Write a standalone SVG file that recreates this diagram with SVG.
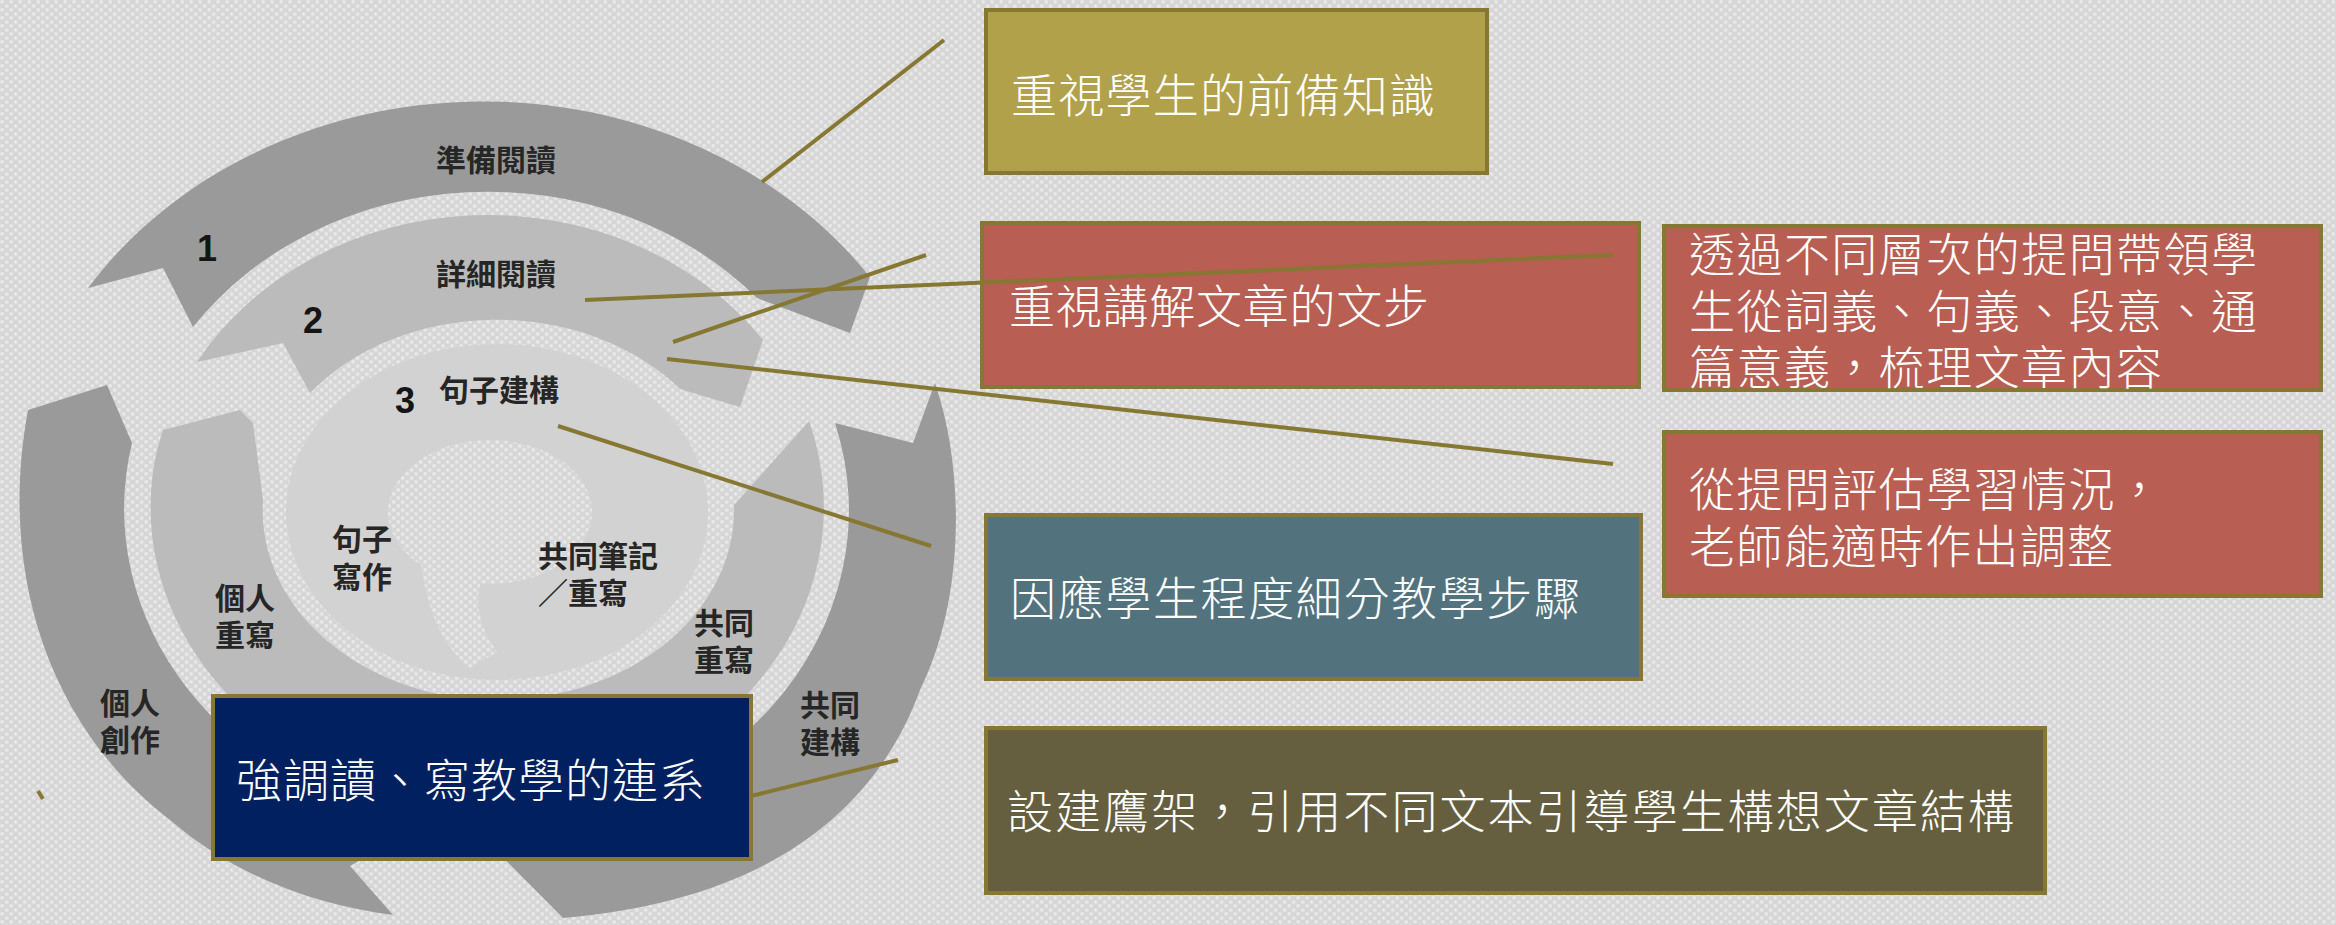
<svg xmlns="http://www.w3.org/2000/svg" width="2336" height="925" viewBox="0 0 2336 925">
<defs>
  <pattern id="tex" width="9" height="8" patternUnits="userSpaceOnUse">
    <rect width="9" height="8" fill="#d6d6d6"/>
    <circle cx="2.25" cy="2" r="2.1" fill="#e4e4e4"/>
    <circle cx="6.75" cy="6" r="2.1" fill="#e4e4e4"/>
    <circle cx="1.8" cy="1.5" r="0.8" fill="#f0f0f0"/>
    <circle cx="6.3" cy="5.5" r="0.8" fill="#f0f0f0"/>
  </pattern>
  <style>
    .lv1{fill:#9a9a9a}
    .lv2{fill:#bbbbbb}
    .lv3{fill:#d2d2d2}
    .lbl{font-family:"Liberation Sans","Noto Sans CJK TC","Noto Sans CJK SC",sans-serif;font-size:30px;font-weight:700;fill:#262626;text-anchor:middle;dominant-baseline:central}
    .num{font-family:"Liberation Sans",Arial,sans-serif;font-size:36px;font-weight:700;fill:#151515;text-anchor:middle;dominant-baseline:central}
    .box{stroke:#867832;stroke-width:4}
    .bt{font-family:"Liberation Sans","Noto Sans CJK TC","Noto Sans CJK SC",sans-serif;font-size:46px;font-weight:300;fill:#ffffff;dominant-baseline:central}
  </style>
</defs>

<rect id="background" x="0" y="0" width="2336" height="925" fill="url(#tex)"/>

<g id="cycle">
  <!-- level 1 (outer) -->
  <path id="seg-A" class="lv1" d="M88 288 A471 409 0 0 1 870 277 L850 333 L757 298 A360 317 0 0 0 193 327 L163 268 Z"/>
  <path id="seg-B" class="lv1" d="M935 383 C965 470 965 600 920 690 C880 800 780 900 563 918 L473 827 A360 317 0 0 0 835 423 L913 443 Z"/>
  <path id="seg-C" class="lv1" d="M28 410 C0 560 40 720 170 820 C240 880 320 905 393 915 L350 866 L427 822 A360 317 0 0 1 132 443 L107 385 Z"/>
  <!-- level 2 (middle) -->
  <path id="seg-D" class="lv2" d="M197 362 A336 294 0 0 1 763 340 L740 407 L680 389 A237 190 0 0 0 310 393 L283 343 Z"/>
  <path id="seg-E" class="lv2" d="M809 421 A336 294 0 0 1 430 797 L456 697 A237 190 0 0 0 734 505 Z"/>
  <path id="seg-F" class="lv2" d="M157 450 A336 294 0 0 0 418 795 L448 696 A237 190 0 0 1 263 500 L253 423 L240 410 L163 430 Z"/>
  <!-- level 3 (inner) -->
  <ellipse id="seg-inner" class="lv3" cx="497" cy="512" rx="211" ry="168"/>
  <ellipse cx="490" cy="512" rx="102" ry="72" fill="url(#tex)"/>
  <path d="M420 555 Q428 635 470 668 L497 652 Q470 615 482 578 Z" fill="url(#tex)"/>

  <text class="lbl" x="496" y="160">準備閱讀</text>
  <text class="lbl" x="496" y="274">詳細閱讀</text>
  <text class="lbl" x="499" y="390">句子建構</text>
  <text class="num" x="207" y="248">1</text>
  <text class="num" x="313" y="320">2</text>
  <text class="num" x="405" y="400">3</text>
  <text class="lbl" x="362" y="539">句子</text>
  <text class="lbl" x="362" y="577">寫作</text>
  <text class="lbl" x="538" y="556" style="text-anchor:start">共同筆記</text>
  <text class="lbl" x="538" y="593" style="text-anchor:start">／重寫</text>
  <text class="lbl" x="245" y="598">個人</text>
  <text class="lbl" x="245" y="635">重寫</text>
  <text class="lbl" x="724" y="623">共同</text>
  <text class="lbl" x="724" y="660">重寫</text>
  <text class="lbl" x="830" y="705">共同</text>
  <text class="lbl" x="830" y="742">建構</text>
  <text class="lbl" x="130" y="703">個人</text>
  <text class="lbl" x="130" y="740">創作</text>
</g>

<g id="node-prior-knowledge">
  <rect class="box" x="986" y="10" width="501" height="163" fill="#b2a14b"/>
  <text class="bt" x="1011" y="96" textLength="424" lengthAdjust="spacing">重視學生的前備知識</text>
</g>
<g id="node-explain-steps">
  <rect class="box" x="982" y="223" width="657" height="164" fill="#b95e52"/>
  <text class="bt" x="1009" y="307" textLength="420" lengthAdjust="spacing">重視講解文章的文步</text>
</g>
<g id="node-questioning-levels">
  <rect class="box" x="1664" y="226" width="657" height="164" fill="#b95e52"/>
  <text class="bt" x="1689" y="255" textLength="568" lengthAdjust="spacing">透過不同層次的提問帶領學</text>
  <text class="bt" x="1689" y="312" textLength="568" lengthAdjust="spacing">生從詞義、句義、段意、通</text>
  <text class="bt" x="1689" y="368" textLength="473" lengthAdjust="spacing">篇意義，梳理文章內容</text>
</g>
<g id="node-assessment">
  <rect class="box" x="1664" y="432" width="657" height="164" fill="#b95e52"/>
  <text class="bt" x="1689" y="490" textLength="473" lengthAdjust="spacing">從提問評估學習情況，</text>
  <text class="bt" x="1689" y="547" textLength="424" lengthAdjust="spacing">老師能適時作出調整</text>
</g>
<g id="node-differentiated-steps">
  <rect class="box" x="986" y="515" width="655" height="164" fill="#52737e"/>
  <text class="bt" x="1010" y="599" textLength="570" lengthAdjust="spacing">因應學生程度細分教學步驟</text>
</g>
<g id="node-scaffolding">
  <rect class="box" x="986" y="728" width="1059" height="165" fill="#655f40"/>
  <text class="bt" x="1007" y="812" textLength="1007" lengthAdjust="spacing">設建鷹架，引用不同文本引導學生構想文章結構</text>
</g>
<g id="node-read-write-link">
  <rect class="box" x="213" y="696" width="538" height="163" fill="#002060"/>
  <text class="bt" x="236" y="781" textLength="469" lengthAdjust="spacing">強調讀、寫教學的連系</text>
</g>

<g id="connectors" stroke="#867832" stroke-width="4" fill="none">
  <line x1="762" y1="182" x2="944" y2="40"/>
  <line x1="585" y1="300" x2="1613" y2="255"/>
  <line x1="673" y1="342" x2="926" y2="255"/>
  <line x1="667" y1="359" x2="1613" y2="464"/>
  <line x1="558" y1="426" x2="931" y2="546"/>
  <line x1="751" y1="796" x2="898" y2="760"/>
  <line x1="38" y1="791" x2="43" y2="799"/>
</g>
</svg>
